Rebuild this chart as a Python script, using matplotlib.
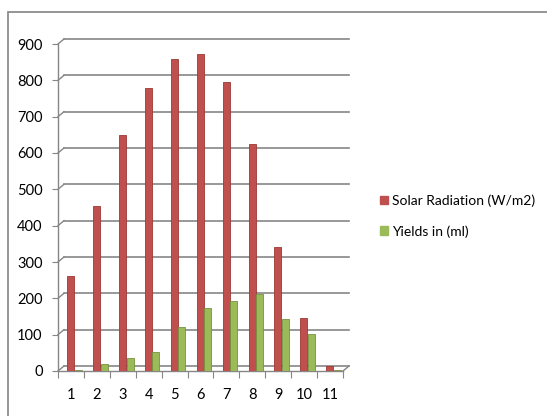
import matplotlib.pyplot as plt
import matplotlib.transforms as mtransforms
from matplotlib.patches import Rectangle, Patch
import numpy as np

# Data
hours = [1, 2, 3, 4, 5, 6, 7, 8, 9, 10, 11]
solar = [262, 455, 650, 780, 858, 872, 795, 625, 340, 145, 15]
yields = [3, 18, 37, 52, 122, 173, 192, 213, 143, 101, 2]
yticks = [0, 100, 200, 300, 400, 500, 600, 700, 800, 900]

red = '#C0504D'
green = '#9BBB59'
grid_color = '#868686'

plt.rcParams['font.family'] = ['Lato', 'DejaVu Sans']

W, H = 547, 416
fig = plt.figure(figsize=(W / 100, H / 100), dpi=100)

# chart border (only top and left visible in the picture)
fig.patches.append(Rectangle((8 / W, -0.1), 1.2, 1.1 - 12 / H, transform=fig.transFigure,
                             fill=False, edgecolor='#8c8c8c', linewidth=1.3))

ax = fig.add_axes([58 / W, 1 - 371 / H, (343 - 58) / W, (371 - 44) / H])
ax.set_xlim(0.5, 11.5)
ax.set_ylim(0, 900)
ax.patch.set_alpha(0)

x = np.array(hours)

# back wall shifted up/right to fake the 3D depth
back = mtransforms.offset_copy(ax.transData, fig=fig, x=6, y=5, units='dots')
for v in yticks:
    ax.plot([0.5, 11.5], [v, v], transform=back, color=grid_color, lw=1.2,
            clip_on=False, zorder=1)
# small diagonals from front axis to back wall
for v in yticks:
    p0 = ax.transData.transform((0.5, v))
    ax.plot([p0[0], p0[0] + 6], [p0[1], p0[1] + 5], transform=None,
            color=grid_color, lw=1.0, clip_on=False, zorder=1)
p1 = ax.transData.transform((11.5, 0))
ax.plot([p1[0], p1[0] + 6], [p1[1], p1[1] + 5], transform=None,
        color=grid_color, lw=1.0, clip_on=False, zorder=1)

# bars
ax.bar(x - 0.01, solar, width=0.27, color=red, edgecolor='#9a3835', linewidth=0.6, zorder=3)
ax.bar(x + 0.28, yields, width=0.27, color=green, edgecolor='#76913f', linewidth=0.6, zorder=3)

# axes styling
for s in ['top', 'right']:
    ax.spines[s].set_visible(False)
ax.spines['left'].set_color(grid_color)
ax.spines['bottom'].set_color(grid_color)
ax.spines['left'].set_linewidth(1.0)
ax.spines['bottom'].set_linewidth(1.0)

ax.set_yticks(yticks)
ax.tick_params(axis='y', direction='out', length=4, color=grid_color, pad=7,
               labelsize=10.5, labelcolor='#000000')

ax.set_xticks(np.arange(0.5, 12.0, 1.0))
ax.set_xticklabels([])
ax.set_xticks(x, minor=True)
ax.set_xticklabels([str(h) for h in hours], minor=True)
ax.tick_params(axis='x', which='major', direction='out', length=5, color=grid_color)
ax.tick_params(axis='x', which='minor', length=0, pad=12, labelsize=10.5)

# legend
handles = [Patch(color=red, label='Solar Radiation (W/m2)'),
           Patch(color=green, label='Yields in (ml)')]
fig.legend(handles=handles, loc='center left', bbox_to_anchor=(367 / W, 1 - 216 / H),
           frameon=False, fontsize=10, handlelength=0.6, handleheight=0.6,
           handletextpad=0.3, labelspacing=1.3)

fig.savefig('out.png', dpi=100)
